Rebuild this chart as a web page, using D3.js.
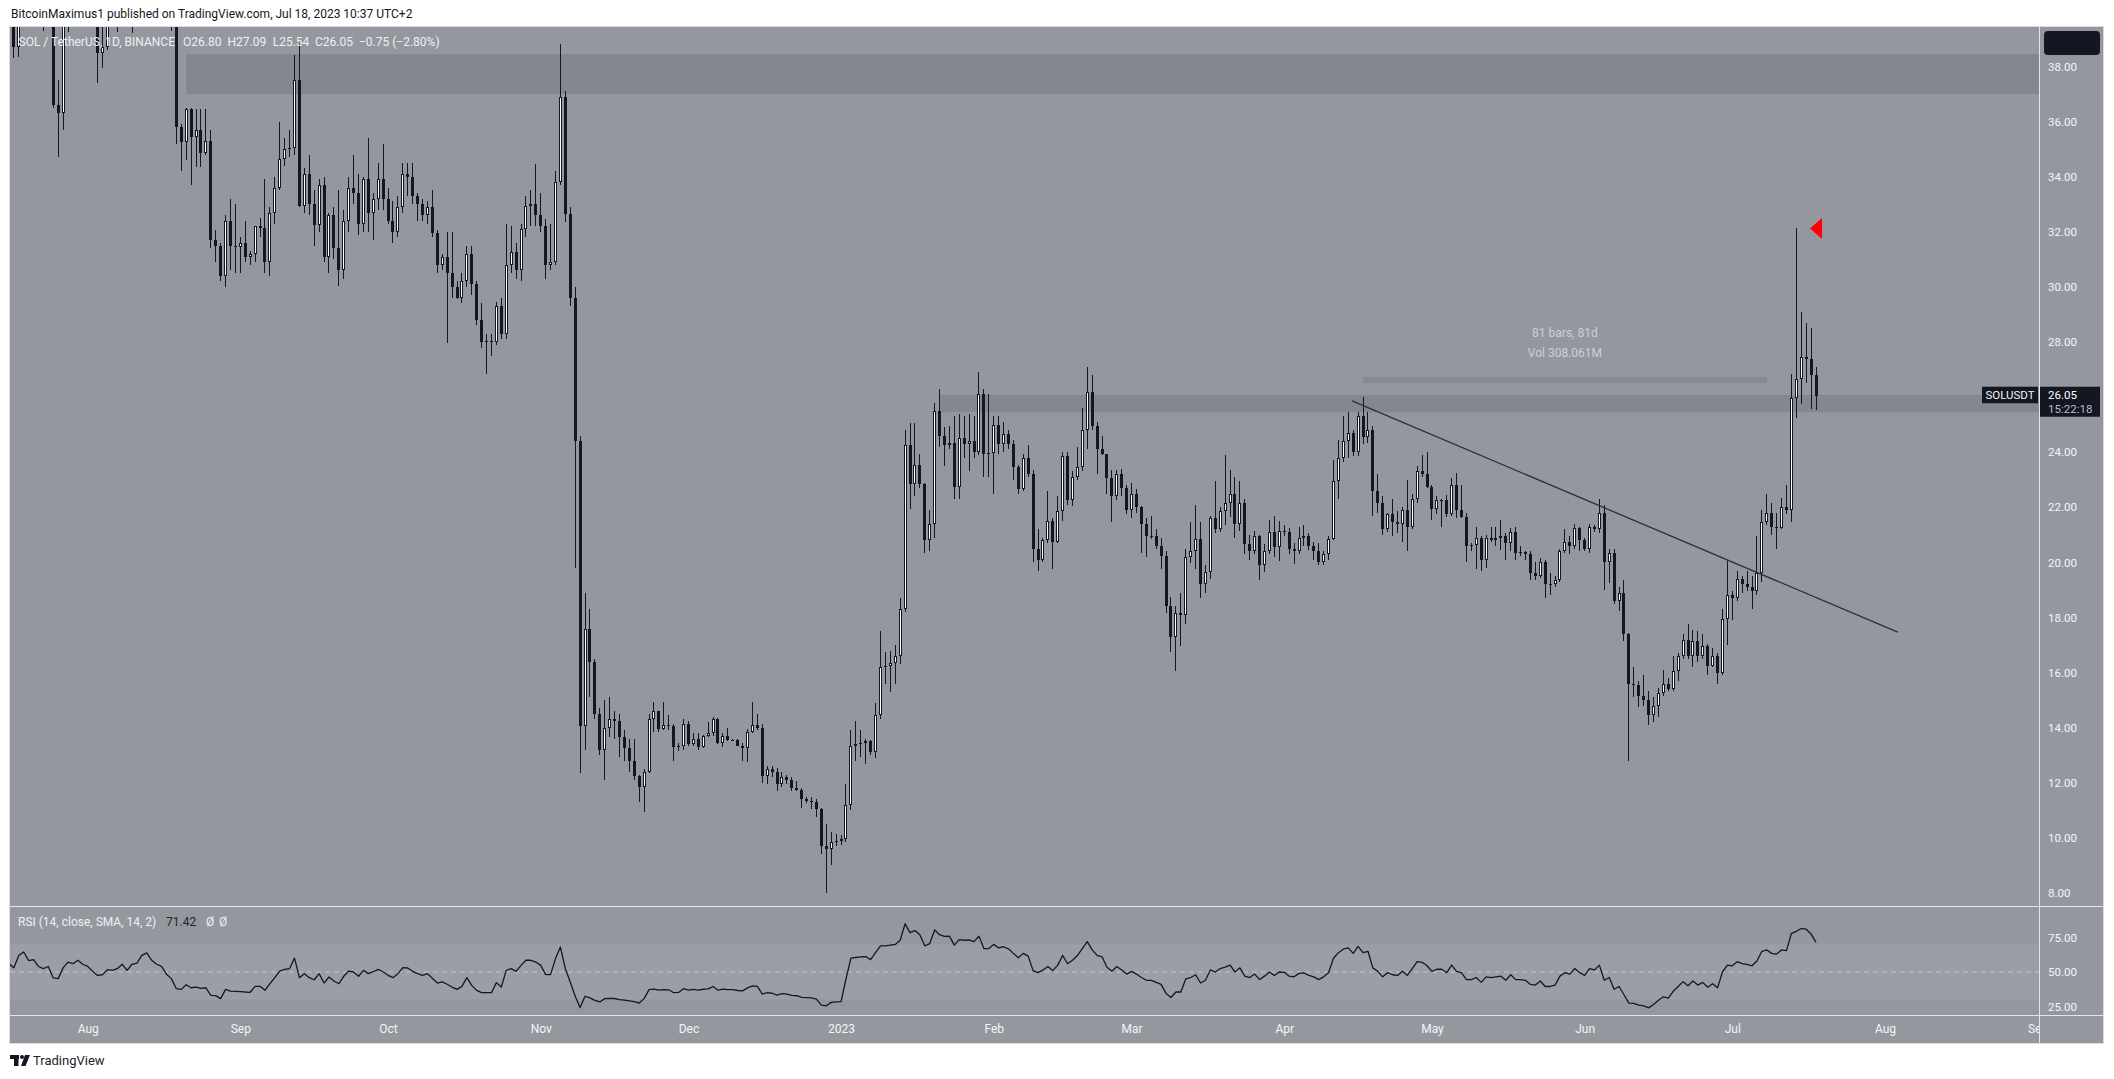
<!DOCTYPE html>
<html>
<head>
<meta charset="utf-8">
<script src="https://cdn.jsdelivr.net/npm/d3@7"></script>
<style>
html,body{margin:0;padding:0;background:#ffffff;}
svg{display:block;}
text{font-family:Roboto,"DejaVu Sans",sans-serif;}
</style>
</head>
<body>
<svg id="chart" width="2114" height="1079"></svg>
<script>
// ---------------- DATA ----------------
const startDate = "2022-07-16";   // first daily candle
const opens = [
  37.9,39.6,38.7,42.4,44.6,43.6,44.9,41.9,41.0,40.8,36.6,36.3,40.2,42.2,42.5,44.3,
  42.1,40.4,39.9,38.5,38.7,40.5,40.0,40.8,42.5,40.3,42.0,42.7,44.2,45.6,43.5,42.0,41.6,40.4,40.2,35.8,35.25,36.45,35.45,35.7,34.85,35.3,31.7,31.5,30.4,32.4,31.5,
  31.45,31.6,31.1,31.2,32.2,32.15,30.9,32.7,33.6,34.65,35.0,35.05,37.5,32.95,34.1,33.0,32.25,33.7,31.1,32.6,31.4,30.6,32.4,33.6,33.4,32.3,33.9,32.7,33.2,33.9,
  33.2,32.4,32.0,32.9,34.1,34.0,33.3,33.0,32.6,32.9,31.95,30.8,31.1,30.5,30.0,29.6,30.2,31.2,30.1,28.8,28.0,28.05,28.0,29.3,28.3,30.8,31.25,30.6,32.1,32.95,33.0,
  32.6,32.2,30.8,30.9,33.8,36.9,32.65,29.6,24.4,14.07,17.6,16.4,14.5,13.2,14.0,14.3,14.25,13.65,13.25,12.8,12.25,11.85,12.4,14.3,14.6,13.95,14.1,14.05,13.3,13.32,
  14.15,13.4,13.6,13.3,13.7,13.8,14.3,13.45,13.7,13.55,13.56,13.35,13.25,13.85,14.1,14.0,12.25,12.5,12.4,11.95,12.2,12.1,11.8,11.75,11.4,11.35,11.3,11.05,9.7,9.6,9.85,
  9.9,9.95,11.2,13.35,13.4,13.45,13.5,13.1,14.45,16.2,16.25,16.35,16.6,18.3,24.25,22.85,23.55,22.85,20.8,21.4,25.5,24.6,24.25,24.35,22.75,24.5,24.3,24.4,24.0,26.1,23.95,
  23.97,25.0,24.3,24.65,24.3,23.45,22.65,23.8,23.2,20.5,20.1,20.8,21.5,20.75,21.85,23.85,22.25,23.1,23.45,24.8,26.2,24.95,24.1,23.94,23.05,22.4,23.2,22.7,
  21.9,22.5,22.0,21.4,20.95,20.97,20.6,20.25,18.4,17.3,18.15,18.1,20.2,20.4,20.85,19.2,19.65,21.6,21.2,21.85,22.15,22.5,21.4,22.15,20.65,20.4,20.95,19.9,20.4,21.1,20.55,
  21.15,21.1,20.5,20.4,20.9,20.95,20.6,20.4,20.0,20.3,20.85,22.95,23.8,24.4,24.7,24.0,25.3,24.55,24.8,22.6,22.15,21.2,21.75,21.45,21.4,21.9,21.3,22.3,23.3,23.2,
  22.75,21.95,22.25,22.27,21.75,22.8,21.9,21.65,20.6,20.62,20.9,20.1,20.9,20.8,20.9,20.95,20.7,21.1,20.35,20.37,20.3,19.6,19.5,20.0,19.2,19.22,19.35,20.4,20.75,20.6,21.25,
  20.8,20.5,21.3,21.2,21.8,20.0,20.35,18.6,18.9,17.4,15.6,15.55,15.15,15.0,14.45,14.8,15.25,15.6,15.4,16.05,16.6,17.2,16.6,17.15,16.6,16.95,16.25,16.6,16.0,17.95,
  18.8,18.7,19.4,19.2,19.1,18.95,19.6,21.45,21.8,21.3,21.25,22.0,21.9,25.95,26.65,27.45,27.4,26.8
];
const highs = [
  40.0,41.0,42.8,45.3,47.0,45.3,45.8,42.3,42.3,41.0,37.5,40.8,42.8,43.5,45.5,45.0,
  42.5,41.0,40.8,39.8,41.2,41.0,41.3,43.6,42.6,42.4,44.2,44.5,47.3,46.0,44.9,42.5,42.9,41.0,40.4,35.9,36.5,36.5,36.45,36.45,36.45,35.7,32.05,31.6,32.6,33.2,33.0,
  31.8,32.4,31.3,32.2,32.5,33.9,32.9,34.0,36.0,35.4,35.7,38.4,38.8,34.3,34.8,33.5,33.9,34.0,32.7,32.9,33.5,32.8,34.0,34.8,34.1,34.0,35.4,33.4,34.5,35.2,
  33.6,33.1,33.3,34.5,34.5,34.5,33.4,33.2,33.1,33.5,32.05,31.2,32.0,32.0,30.2,30.5,31.5,31.5,30.2,29.4,28.3,28.3,29.45,29.6,32.3,32.2,31.6,32.3,33.3,33.5,34.45,
  33.4,32.45,32.3,34.2,38.8,37.1,32.9,30.0,24.6,18.9,18.3,16.5,14.7,15.0,15.1,14.6,14.5,13.9,13.6,13.6,12.3,12.5,14.5,14.95,14.6,14.95,14.45,14.15,13.45,14.3,
  14.25,13.8,13.8,13.75,14.2,14.4,14.35,13.8,14.0,13.6,13.6,13.45,13.95,14.95,14.5,14.15,12.6,12.6,12.55,12.4,12.3,12.2,12.05,11.8,11.5,11.5,11.4,11.1,10.5,10.2,10.15,
  10.1,11.95,13.9,14.25,13.9,13.6,13.55,14.9,17.5,16.75,16.8,17.0,18.7,24.8,25.05,25.05,23.95,22.9,21.9,25.8,26.3,24.9,24.95,25.3,25.4,25.3,25.4,25.3,26.9,26.3,26.1,
  25.3,25.3,25.1,24.8,24.45,23.55,23.95,24.25,23.35,21.2,20.9,22.6,21.6,22.4,24.0,24.0,23.3,24.2,25.6,27.1,26.8,25.1,24.6,23.95,23.35,23.35,23.4,22.8,
  22.9,22.65,22.05,21.6,21.7,21.2,20.9,20.4,18.75,18.4,18.9,20.5,21.45,22.1,21.45,19.9,21.7,22.95,22.0,23.9,23.35,23.1,22.95,22.3,21.0,21.15,21.0,20.65,21.55,21.7,21.5,
  21.35,21.25,20.7,21.3,21.35,21.05,20.75,20.7,20.4,20.95,23.7,24.45,25.3,25.45,24.8,25.45,26.0,25.45,24.95,23.2,22.4,21.8,22.3,21.85,22.0,23.0,22.5,23.5,23.9,24.0,
  22.8,22.4,22.3,22.45,23.05,23.25,22.8,21.8,20.7,21.3,20.95,21.0,21.3,21.3,21.55,21.05,21.25,21.3,20.6,20.4,20.4,20.0,20.15,20.1,19.6,19.5,20.5,21.2,20.95,21.4,21.3,
  20.9,21.4,21.35,22.3,22.1,20.5,20.5,19.1,19.35,17.45,16.2,15.7,15.9,15.35,15.1,15.45,16.1,15.8,16.6,16.7,17.4,17.75,17.55,17.5,17.4,17.05,16.9,16.7,18.3,20.05,
  18.95,19.7,19.5,19.7,19.5,20.95,21.9,22.5,22.15,21.8,22.35,22.8,26.85,32.13,29.1,28.7,28.5,27.09
];
const lows = [
  37.4,38.3,38.35,41.4,42.9,41.4,39.6,39.3,40.1,36.5,34.7,35.7,39.25,40.5,41.8,41.8,
  39.8,39.5,37.4,37.95,38.6,39.6,39.25,40.4,39.9,39.2,41.8,41.9,43.9,43.0,40.7,40.6,40.0,39.3,35.2,34.2,34.6,33.7,34.35,34.35,34.8,31.4,30.9,30.2,30.0,30.6,30.5,
  30.5,30.9,30.8,30.9,31.8,30.5,30.4,32.3,33.5,34.4,34.7,34.8,32.9,32.7,32.6,31.5,32.0,30.9,30.5,31.0,30.05,30.3,32.0,33.0,31.9,32.0,32.0,31.7,32.8,32.8,
  32.3,31.6,31.8,32.7,33.3,33.0,32.4,32.4,32.3,31.8,30.5,30.6,27.95,29.6,29.55,29.4,30.0,29.7,28.6,27.8,26.85,27.5,27.9,28.1,28.1,30.5,30.3,30.2,31.8,32.2,32.2,
  32.0,30.3,30.6,30.8,33.7,32.35,29.3,19.8,12.37,13.2,15.1,14.3,13.0,12.1,13.65,13.6,12.95,12.8,12.4,12.1,11.3,10.95,12.35,13.85,13.85,13.9,13.9,12.8,13.15,13.2,
  13.35,13.35,13.2,13.25,13.65,13.7,13.4,13.3,13.5,13.5,13.35,12.8,12.75,13.8,13.9,12.0,11.95,12.2,11.7,11.85,11.95,11.7,11.7,11.1,11.25,11.05,10.75,9.4,8.0,9.0,9.7,
  9.75,9.85,11.0,12.8,12.95,12.7,13.0,12.9,14.3,15.6,15.3,15.6,16.3,18.2,21.95,22.4,22.7,20.35,20.4,20.9,24.2,23.5,24.1,22.3,22.3,23.8,23.3,23.8,23.9,23.1,23.1,
  22.5,23.95,24.0,24.1,23.0,22.5,22.6,23.1,20.0,19.7,20.0,20.7,19.75,20.7,21.5,22.1,22.05,23.0,23.3,24.1,24.8,23.2,23.9,22.5,21.45,22.25,22.4,21.75,
  21.6,21.8,20.35,20.2,20.85,20.5,19.75,18.15,16.75,16.05,16.95,17.75,19.97,19.75,18.7,18.9,19.4,21.05,21.1,21.35,21.65,20.9,21.15,20.3,20.1,20.3,19.35,19.65,20.3,20.2,20.05,
  20.95,20.3,19.95,20.3,20.6,20.45,20.1,19.9,19.9,20.1,20.8,22.3,23.65,23.8,23.85,23.85,24.3,24.35,21.7,21.8,21.0,21.1,20.95,21.05,20.75,20.4,21.2,22.15,23.1,22.7,
  21.55,21.75,21.3,21.65,21.7,21.6,21.6,20.0,20.4,19.75,19.7,19.8,20.75,20.6,20.45,20.1,20.4,20.1,20.25,20.1,19.35,19.35,19.45,18.7,18.8,19.1,19.3,20.35,20.3,20.5,20.4,
  20.4,20.35,21.1,21.05,19.0,19.25,18.5,18.25,17.15,12.8,15.1,14.75,14.8,14.1,14.2,14.4,15.15,15.35,15.35,15.7,16.5,16.5,16.2,16.4,16.5,15.9,16.2,15.6,15.9,17.0,
  17.9,18.6,18.9,18.95,18.3,18.8,19.3,21.35,21.0,20.5,21.2,21.75,21.45,25.25,25.75,26.5,25.55,25.54
];
const closes = [
  39.6,38.7,42.4,44.6,43.6,44.9,41.9,41.0,40.8,36.6,36.3,40.2,42.2,42.5,44.3,42.1,
  40.4,39.9,38.5,38.7,40.5,40.0,40.8,42.5,40.3,42.0,42.7,44.2,45.6,43.5,42.0,41.6,40.4,40.2,35.8,35.25,36.45,35.45,35.7,34.85,35.3,31.7,31.5,30.4,32.4,31.5,31.45,
  31.6,31.1,31.2,32.2,32.15,30.9,32.7,33.6,34.65,35.0,35.05,37.5,32.95,34.1,33.0,32.25,33.7,31.1,32.6,31.4,30.6,32.4,33.6,33.4,32.3,33.9,32.7,33.2,33.9,33.2,
  32.4,32.0,32.9,34.1,34.0,33.3,33.0,32.6,32.9,31.95,30.8,31.1,30.5,30.0,29.6,30.2,31.2,30.1,28.8,28.0,28.05,28.0,29.3,28.3,30.8,31.25,30.6,32.1,32.95,33.0,32.6,
  32.2,30.8,30.9,33.8,36.9,32.65,29.6,24.4,14.07,17.6,16.4,14.5,13.2,14.0,14.3,14.25,13.65,13.25,12.8,12.25,11.85,12.4,14.3,14.6,13.95,14.1,14.05,13.3,13.32,14.15,
  13.4,13.6,13.3,13.7,13.8,14.3,13.45,13.7,13.55,13.56,13.35,13.25,13.85,14.1,14.0,12.25,12.5,12.4,11.95,12.2,12.1,11.8,11.75,11.4,11.35,11.3,11.05,9.7,9.6,9.85,9.9,
  9.95,11.2,13.35,13.4,13.45,13.5,13.1,14.45,16.2,16.25,16.35,16.6,18.3,24.25,22.85,23.55,22.85,20.8,21.4,25.5,24.6,24.25,24.35,22.75,24.5,24.3,24.4,24.0,26.1,23.95,23.97,
  25.0,24.3,24.65,24.3,23.45,22.65,23.8,23.2,20.5,20.1,20.8,21.5,20.75,21.85,23.85,22.25,23.1,23.45,24.8,26.2,24.95,24.1,23.94,23.05,22.4,23.2,22.7,21.9,
  22.5,22.0,21.4,20.95,20.97,20.6,20.25,18.4,17.3,18.15,18.1,20.2,20.4,20.85,19.2,19.65,21.6,21.2,21.85,22.15,22.5,21.4,22.15,20.65,20.4,20.95,19.9,20.4,21.1,20.55,21.15,
  21.1,20.5,20.4,20.9,20.95,20.6,20.4,20.0,20.3,20.85,22.95,23.8,24.4,24.7,24.0,25.3,24.55,24.8,22.6,22.15,21.2,21.75,21.45,21.4,21.9,21.3,22.3,23.3,23.2,22.75,
  21.95,22.25,22.27,21.75,22.8,21.9,21.65,20.6,20.62,20.9,20.1,20.9,20.8,20.9,20.95,20.7,21.1,20.35,20.37,20.3,19.6,19.5,20.0,19.2,19.22,19.35,20.4,20.75,20.6,21.25,20.8,
  20.5,21.3,21.2,21.8,20.0,20.35,18.6,18.9,17.4,15.6,15.55,15.15,15.0,14.45,14.8,15.25,15.6,15.4,16.05,16.6,17.2,16.6,17.15,16.6,16.95,16.25,16.6,16.0,17.95,18.8,
  18.7,19.4,19.2,19.1,18.95,19.6,21.45,21.8,21.3,21.25,22.0,21.9,25.95,26.65,27.45,27.4,26.8,26.05
];
const rsiValues = [
  56,53,62,64.5,58.3,59.0,54.0,52.4,54.0,45.7,45.2,53.0,57.2,56.0,58.5,55.6,
  54.1,50.5,47.5,48.0,51.7,51.2,52.4,55.6,51.2,55.6,56.5,62.1,63.8,58.5,55.6,54.1,48.3,45.2,37.9,37.4,40.8,38.6,39.1,38.2,38.6,33.1,32.9,30.7,37.4,36.2,36.0,
  35.8,35.5,35.3,39.6,39.6,36.7,41.5,45.9,50.7,51.9,52.4,60.1,45.9,48.8,45.9,44.4,48.8,42.0,46.4,43.5,41.5,46.9,50.7,50.0,46.9,51.2,48.8,50.2,51.9,50.0,
  47.6,45.9,48.8,53.1,52.9,50.5,48.8,47.6,48.8,45.5,42.0,42.8,41.1,39.1,37.4,39.6,45.9,40.3,36.7,35.0,35.0,35.0,42.3,39.1,51.2,52.4,50.5,54.8,58.5,58.5,57.2,
  54.8,48.1,48.1,59.7,68.1,52.4,42.8,32.4,24.2,32.4,31.2,29.5,28.3,30.7,30.9,30.8,30.0,29.7,29.0,28.5,27.5,30.7,37.2,37.6,36.9,37.3,37.1,35.0,35.2,37.9,
  36.8,37.4,36.8,37.5,37.8,39.5,36.8,37.6,37.2,37.2,36.6,36.3,38.5,40.0,39.6,34.0,35.0,34.6,33.2,34.3,34.0,33.0,32.8,31.6,31.4,31.2,30.3,26.0,25.5,28.0,28.3,
  28.6,45.0,60.0,60.5,61.0,61.2,59.0,64.0,69.0,69.0,69.5,70.0,73.0,85.0,78.5,80.0,77.0,69.0,70.5,80.5,77.0,75.8,76.0,69.5,73.5,73.0,73.2,72.0,76.0,67.0,67.0,
  70.0,67.5,68.3,66.8,63.5,60.3,63.5,61.5,51.0,49.5,51.5,54.0,51.0,55.0,62.0,56.0,58.5,62.0,67.0,72.0,66.0,62.0,61.0,53.5,50.5,54.0,51.5,48.5,
  50.5,48.5,46.0,44.0,44.0,42.5,41.0,34.5,31.5,35.5,35.5,45.0,46.0,48.0,42.0,44.0,51.5,50.0,52.5,53.5,55.0,50.0,53.0,47.0,46.0,48.5,44.5,47.0,50.0,47.5,50.0,
  49.8,47.0,46.5,49.0,49.3,47.5,46.5,44.5,46.5,49.5,60.0,64.0,66.5,67.5,63.5,68.5,64.0,65.0,53.0,50.5,46.5,49.5,48.0,47.5,50.5,47.5,52.5,57.5,57.0,54.5,
  50.5,52.0,52.0,49.5,55.0,50.5,49.5,44.5,44.5,46.0,42.5,46.5,46.0,46.5,47.0,44.0,48.0,44.5,44.5,44.0,41.0,40.5,43.5,39.5,39.5,40.5,47.0,49.5,48.5,52.5,49.5,
  47.5,52.5,51.5,55.0,44.0,46.0,37.5,39.5,33.5,27.5,27.3,26.0,25.5,24.0,26.5,29.5,32.0,31.0,36.0,39.5,43.0,40.0,43.5,40.5,42.5,39.0,41.5,38.5,50.0,55.0,
  54.5,57.5,56.0,55.5,54.5,58.0,65.0,66.0,63.5,63.0,66.0,65.5,78.0,79.5,81.5,81.0,77.5,71.42
];
const priceTicks = [8,10,12,14,16,18,20,22,24,26,28,30,32,34,36,38];
const rsiTicks = [25,50,75];
const monthTicks = ["2022-08-01","2022-09-01","2022-10-01","2022-11-01","2022-12-01","2023-01-01","2023-02-01","2023-03-01","2023-04-01","2023-05-01","2023-06-01","2023-07-01","2023-08-01","2023-09-01"];
const monthLabels = ["Aug","Sep","Oct","Nov","Dec","2023","Feb","Mar","Apr","May","Jun","Jul","Aug","Sep"];
// drawings
const zoneUpper = {start:"2022-08-21", low:37.0, high:38.45};
const zoneLower = {start:"2023-01-21", low:25.45, high:26.08};
const trendPoints = [["2023-04-14T19:00:00Z",25.86],["2023-08-03T14:24:00Z",17.47]];
const rangeBar = {start:"2023-04-17", end:"2023-07-08", low:26.51, high:26.73};
const rangeTexts = ["81 bars, 81d","Vol 308.061M"];
const marker = {date:"2023-07-16T19:00:00Z", price:32.12};
const lastPrice = 26.05, countdown = "15:22:18", symbol = "SOLUSDT";
const headerText = "BitcoinMaximus1 published on TradingView.com, Jul 18, 2023 10:37 UTC+2";
const legendParts = ["SOL / TetherUS, 1D, BINANCE","O26.80","H27.09","L25.54","C26.05","\u22120.75 (\u22122.80%)"];
const rsiLegend = ["RSI (14, close, SMA, 14, 2)","71.42","\u00D8","\u00D8"];

// ---------------- LAYOUT ----------------
const C = {bg:"#95979f", zone:"#84878f", band:"#9c9ea7", dark:"#131722", light:"#eef0f4", sep:"#e4e5e9"};
const L = {frameL:10, frameT:27, frameR:2103, frameB:1043, paneR:2039, paneB:906, rsiB:1015};

const svg = d3.select("#chart");
const parse = s => new Date(s.length===10 ? s+"T00:00:00Z" : s);
const d0 = parse(startDate);
const dates = d3.utcDay.range(d0, d3.utcDay.offset(d0, closes.length));
const candles = dates.map((d,i)=>({date:d,o:opens[i],h:highs[i],l:lows[i],c:closes[i],r:rsiValues[i]}));

const x = d3.scaleUtc().domain([parse("2022-08-01"), parse("2023-09-01")]).range([87.7, 87.7+396*4.924]);
const y = d3.scaleLinear().domain([8,38]).range([893,66.5]);
const yR = d3.scaleLinear().domain([25,75]).range([1006.5,937.5]);

const defs = svg.append("defs");
defs.append("clipPath").attr("id","mainClip").append("rect")
  .attr("x",L.frameL).attr("y",L.frameT).attr("width",L.paneR-L.frameL).attr("height",L.paneB-L.frameT);
defs.append("clipPath").attr("id","rsiClip").append("rect")
  .attr("x",L.frameL).attr("y",L.paneB).attr("width",L.paneR-L.frameL).attr("height",L.rsiB-L.paneB);
defs.append("clipPath").attr("id","timeClip").append("rect")
  .attr("x",L.frameL).attr("y",L.rsiB).attr("width",L.paneR-L.frameL).attr("height",L.frameB-L.rsiB);

// background
svg.append("rect").attr("width",2114).attr("height",1079).attr("fill","#ffffff");
svg.append("rect").attr("x",L.frameL).attr("y",L.frameT).attr("width",L.frameR-L.frameL).attr("height",L.frameB-L.frameT).attr("fill",C.bg);

// header
svg.append("text").attr("x",11).attr("y",17.5).attr("font-size",12).attr("fill",C.dark).text(headerText);

// main pane
const main = svg.append("g").attr("clip-path","url(#mainClip)");
[zoneUpper, zoneLower].forEach(z=>{
  main.append("rect").attr("x",x(parse(z.start))).attr("y",y(z.high))
    .attr("width",L.paneR-x(parse(z.start))).attr("height",y(z.low)-y(z.high)).attr("fill",C.zone);
});
main.append("rect").attr("x",x(parse(rangeBar.start))).attr("y",y(rangeBar.high))
  .attr("width",x(parse(rangeBar.end))-x(parse(rangeBar.start))).attr("height",y(rangeBar.low)-y(rangeBar.high))
  .attr("fill","#878a93");
const midX = (x(parse(rangeBar.start))+x(parse(rangeBar.end)))/2;
rangeTexts.forEach((t,i)=>{
  main.append("text").attr("x",midX).attr("y",y(rangeBar.high)-40+i*20).attr("text-anchor","middle")
    .attr("font-size",12).attr("fill","#cdd0d6").text(t);
});

const cg = main.append("g").attr("shape-rendering","crispEdges");
candles.forEach(k=>{
  const cx = x(k.date);
  const left = Math.round(cx-1.5);
  const top = y(Math.max(k.o,k.c)), bot = y(Math.min(k.o,k.c));
  const hi = y(Math.max(k.h,k.o,k.c)), lo = y(Math.min(k.l,k.o,k.c));
  cg.append("rect").attr("x",left+1).attr("y",hi).attr("width",1).attr("height",Math.max(1,lo-hi)).attr("fill",C.dark);
  const bt = Math.round(top), bh = Math.max(1, Math.round(bot)-bt);
  cg.append("rect").attr("x",left).attr("y",bt).attr("width",3).attr("height",bh).attr("fill",C.dark);
  if (k.c > k.o && bh > 2) {
    cg.append("rect").attr("x",left+1).attr("y",bt+1).attr("width",1).attr("height",bh-2).attr("fill","#ffffff");
  }
});

// trendline
main.append("line")
  .attr("x1",x(parse(trendPoints[0][0]))).attr("y1",y(trendPoints[0][1]))
  .attr("x2",x(parse(trendPoints[1][0]))).attr("y2",y(trendPoints[1][1]))
  .attr("stroke","#2a2e39").attr("stroke-width",1.3);

// red marker
const mx = x(parse(marker.date)), my = y(marker.price);
main.append("path").attr("d",`M${mx},${my} L${mx+12},${my-10.5} L${mx+12},${my+10.5} Z`).attr("fill","#ff0000");

// legend
const legendX = [18.5,183,227.5,272.7,315,359];
legendParts.forEach((t,i)=>{
  svg.append("text").attr("x",legendX[i]).attr("y",46).attr("font-size",12).attr("fill",C.light).text(t);
});

// RSI pane
const rsiG = svg.append("g").attr("clip-path","url(#rsiClip)");
rsiG.append("rect").attr("x",L.frameL).attr("y",yR(70)).attr("width",L.paneR-L.frameL).attr("height",yR(30)-yR(70)).attr("fill",C.band);
rsiG.append("line").attr("x1",L.frameL).attr("x2",L.paneR).attr("y1",yR(50)).attr("y2",yR(50))
  .attr("stroke","#c3c5cc").attr("stroke-dasharray","5,4").attr("stroke-width",1);
rsiG.append("path").datum(candles)
  .attr("d",d3.line().x(k=>x(k.date)).y(k=>yR(k.r)))
  .attr("fill","none").attr("stroke",C.dark).attr("stroke-width",1.3).attr("stroke-linejoin","round");
const rsiLX = [18,166,206,219];
rsiLegend.forEach((t,i)=>{
  svg.append("text").attr("x",rsiLX[i]).attr("y",926).attr("font-size",12)
    .attr("fill", i===1 ? "#1e222d" : C.light).text(t);
});

// separators / frame
const sep = svg.append("g").attr("stroke",C.sep).attr("stroke-width",1).attr("shape-rendering","crispEdges");
sep.append("line").attr("x1",L.paneR+0.5).attr("x2",L.paneR+0.5).attr("y1",L.frameT).attr("y2",L.frameB);
sep.append("line").attr("x1",L.frameL).attr("x2",L.frameR).attr("y1",L.paneB+0.5).attr("y2",L.paneB+0.5);
sep.append("line").attr("x1",L.frameL).attr("x2",L.frameR).attr("y1",L.rsiB+0.5).attr("y2",L.rsiB+0.5);
sep.append("rect").attr("x",L.frameL-0.5).attr("y",L.frameT-0.5).attr("width",L.frameR-L.frameL+1).attr("height",L.frameB-L.frameT+1)
  .attr("fill","none").attr("stroke","#d9dbe0");

// price axis
const pAxis = svg.append("g").attr("transform",`translate(${L.paneR},0)`)
  .call(d3.axisRight(y).tickValues(priceTicks).tickFormat(d3.format(".2f")).tickSize(0).tickPadding(9));
pAxis.select(".domain").remove();
pAxis.selectAll("text").attr("font-size",11.5).attr("fill","#f4f5f7").attr("font-family","Roboto, sans-serif");

const rAxis = svg.append("g").attr("transform",`translate(${L.paneR},0)`)
  .call(d3.axisRight(yR).tickValues(rsiTicks).tickFormat(d3.format(".2f")).tickSize(0).tickPadding(9));
rAxis.select(".domain").remove();
rAxis.selectAll("text").attr("font-size",11.5).attr("fill","#f4f5f7").attr("font-family","Roboto, sans-serif");

// time axis
const tWrap = svg.append("g").attr("clip-path","url(#timeClip)");
const tAxis = tWrap.append("g").attr("transform",`translate(0,${L.rsiB})`)
  .call(d3.axisBottom(x).tickValues(monthTicks.map(parse)).tickFormat((d,i)=>monthLabels[i]).tickSize(0).tickPadding(9));
tAxis.select(".domain").remove();
tAxis.selectAll("text").attr("font-size",12).attr("fill","#f4f5f7").attr("font-family","Roboto, sans-serif");

// top-right dark box on scale
svg.append("rect").attr("x",2044).attr("y",31).attr("width",56).attr("height",24).attr("rx",4).attr("fill",C.dark);

// last price labels
const ly = y(lastPrice);
svg.append("rect").attr("x",1982).attr("y",ly-9).attr("width",56).attr("height",16.5).attr("fill",C.dark);
svg.append("text").attr("x",2010).attr("y",ly+3.5).attr("text-anchor","middle").attr("font-size",11.5).attr("fill","#f4f5f7").text(symbol);
svg.append("rect").attr("x",2040).attr("y",ly-9).attr("width",60).attr("height",30).attr("fill",C.dark);
svg.append("text").attr("x",2048).attr("y",ly+3.5).attr("font-size",11.5).attr("fill","#ffffff").text(d3.format(".2f")(lastPrice));
svg.append("text").attr("x",2048).attr("y",ly+17).attr("font-size",11.5).attr("fill","#b8bbc4").text(countdown);

// TradingView footer
const logo = svg.append("g").attr("fill",C.dark);
logo.append("rect").attr("x",10).attr("y",1055).attr("width",9).attr("height",4);
logo.append("rect").attr("x",14).attr("y",1055).attr("width",4.5).attr("height",11);
logo.append("circle").attr("cx",22).attr("cy",1057).attr("r",2);
logo.append("path").attr("d","M25,1055 L30,1055 L25.5,1066 L21,1066 Z");
svg.append("text").attr("x",33).attr("y",1065).attr("font-size",13).attr("fill","#1e222d").text("TradingView");
</script>
</body>
</html>
